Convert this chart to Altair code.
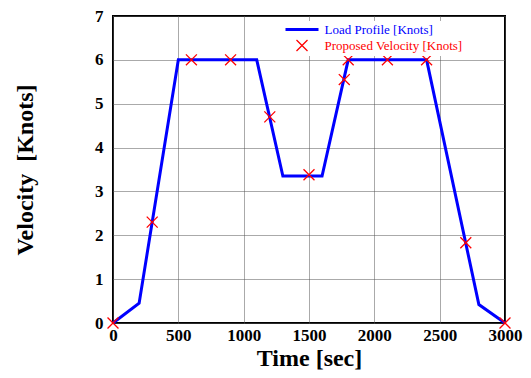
import altair as alt
import pandas as pd

load_t = [0, 200, 500, 1100, 1300, 1600, 1800, 2400, 2800, 3000]
load_v = [0, 0.45, 6, 6, 3.35, 3.35, 6, 6, 0.42, 0]
prop_t = [0, 300, 600, 900, 1200, 1500, 1770, 1800, 2100, 2400, 2700, 3000]
prop_v = [0, 2.3, 6, 6, 4.7, 3.38, 5.55, 6, 6, 6, 1.83, 0]

LOAD = "Load Profile [Knots]"
PROP = "Proposed Velocity [Knots]"
XPATH = "M-1,-1L1,1M-1,1L1,-1"
LINEPATH = "M-3,0L3,0"

load_df = pd.DataFrame({"t": load_t, "v": load_v, "series": LOAD})
prop_df = pd.DataFrame({"t": prop_t, "v": prop_v, "series": PROP})

color_scale = alt.Scale(domain=[LOAD, PROP], range=["#0000ff", "#ff0000"])
shape_scale = alt.Scale(domain=[LOAD, PROP], range=[LINEPATH, XPATH])

xenc = alt.X("t:Q", scale=alt.Scale(domain=[0, 3000], nice=False),
             axis=alt.Axis(title="Time [sec]", values=[0, 500, 1000, 1500, 2000, 2500, 3000],
                           format="d", titlePadding=3, labelPadding=4))
yenc = alt.Y("v:Q", scale=alt.Scale(domain=[0, 7], nice=False),
             axis=alt.Axis(title="Velocity\u00a0\u00a0[Knots]", values=[0, 1, 2, 3, 4, 5, 6, 7],
                           format="d", titlePadding=57, labelPadding=10))

is_load = f"datum.label == '{LOAD}'"
legend = alt.Legend(
    orient="none", legendX=180.5, legendY=5, title=None,
    labelFont="Liberation Serif", labelFontSize=13, labelFontWeight="normal",
    labelColor={"expr": f"{is_load} ? '#0000ff' : '#ff0000'"},
    symbolSize=121, symbolStrokeWidth={"expr": f"{is_load} ? 3 : 1.3"},
    rowPadding=0, padding=2, fillColor="white", labelOffset=16,
)

line = alt.Chart(load_df).mark_line(strokeWidth=3).encode(
    x=xenc, y=yenc,
    color=alt.Color("series:N", scale=color_scale, legend=legend),
)
pts = alt.Chart(prop_df).mark_point(filled=False, size=120, strokeWidth=1.3, opacity=1).encode(
    x=xenc, y=yenc,
    color=alt.Color("series:N", scale=color_scale, legend=legend),
    shape=alt.Shape("series:N", scale=shape_scale, legend=legend),
)

chart = alt.layer(line, pts).properties(
    width=392, height=307,
    autosize=alt.AutoSizeParams(type="none"),
    padding={"left": 113, "top": 16, "right": 26, "bottom": 55},
).configure_view(
    stroke="black", strokeWidth=2
).configure_axis(
    domain=False, ticks=False,
    grid=True, gridColor="#555555", gridDash=[1, 1], gridWidth=1, gridOpacity=1,
    labelFont="Liberation Serif", labelFontSize=17, labelFontWeight="bold", labelColor="black",
    titleFont="Liberation Serif", titleFontSize=24, titleFontWeight="bold", titleColor="black",
    labelFlush=False,
)

chart.save("out.html", embed_options={"renderer": "svg", "actions": False})
